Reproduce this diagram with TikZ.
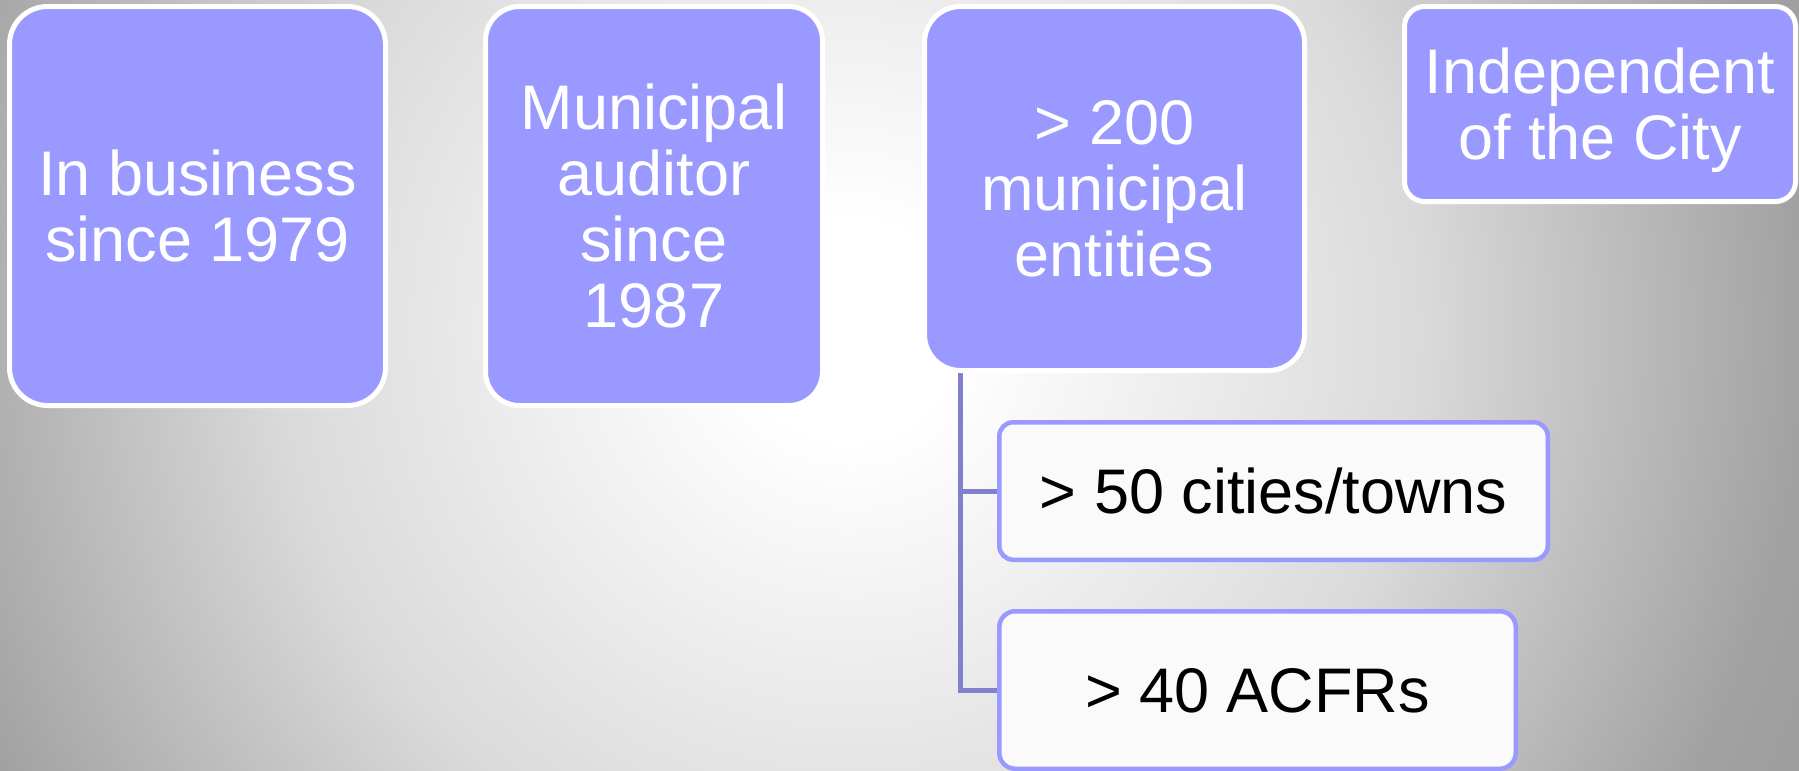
\documentclass[tikz,border=0pt]{standalone}
\usepackage{fontspec}
\setmainfont{Liberation Sans}
\usetikzlibrary{calc}

\definecolor{boxfill}{RGB}{153,153,255}
\definecolor{childfill}{RGB}{250,250,250}
\definecolor{childline}{RGB}{153,153,255}
\definecolor{conncol}{RGB}{128,128,204}
\definecolor{bgmid}{RGB}{218,218,218}
\definecolor{bgedge}{RGB}{162,162,162}
\definecolor{bgfar}{RGB}{154,154,154}

% soft radial backdrop, bright near the middle, grey towards the edges
% (25bp corresponds to the half-width of the shaded square)
\pgfdeclareradialshading{backdrop}{\pgfpoint{0bp}{0bp}}{%
  color(0bp)=(white); color(2.75bp)=(white); color(14.25bp)=(bgmid);
  color(23.75bp)=(bgedge); color(27.5bp)=(bgfar); color(50bp)=(bgfar)}

\pgfdeclarelayer{bg}
\pgfsetlayers{bg,main}

\tikzset{
  txt/.style={font=\fontsize{31.5pt}{33pt}\selectfont, align=center, inner sep=0pt,
              text depth=0pt},
  mainbox/.style={txt, draw=white, line width=2.5pt, fill=boxfill, text=white,
                  rectangle},
  childbox/.style={txt, draw=childline, line width=2.25pt, fill=childfill, text=black,
                   rectangle},
  conn/.style={draw=conncol, line width=2.5pt, line join=miter}
}

\begin{document}
\begin{tikzpicture}[x=0.5pt, y=-0.5pt]
  \useasboundingbox (0,0) rectangle (1799,771);

  % top-level boxes
  \node[mainbox, rounded corners=19pt, minimum width=188pt, minimum height=199.5pt]
    (B1) at (197.5,206) {In business\\since 1979};
  \node[mainbox, rounded corners=17pt, minimum width=168.5pt, minimum height=199.5pt]
    (B2) at (654,206) {Municipal\\auditor\\since\\1987};
  \node[mainbox, rounded corners=18pt, minimum width=190pt, minimum height=182pt]
    (B3) at (1114.5,188.5) {> 200\\municipal\\entities};
  \node[mainbox, rounded corners=10pt, minimum width=195.5pt, minimum height=97.5pt]
    (B4) at (1600,104) {Independent\\of the City};

  % sub-items of the third box
  \node[childbox, rounded corners=7pt, minimum width=274.25pt, minimum height=68.75pt]
    (C1) at (1273.5,491) {> 50 cities/towns};
  \node[childbox, rounded corners=8pt, minimum width=258.25pt, minimum height=78.75pt]
    (C2) at (1257.5,690) {> 40 ACFRs};

  \coordinate (trunk) at ($(B3.south west)+(38,0)$);

  \begin{pgfonlayer}{bg}
    \clip (0,0) rectangle (1799,771);
    \shade[shading=backdrop] (-150,-670) rectangle (1850,1330);
    \draw[conn] (trunk) |- (C1.west);
    \draw[conn] (trunk) |- (C2.west);
  \end{pgfonlayer}
\end{tikzpicture}
\end{document}
